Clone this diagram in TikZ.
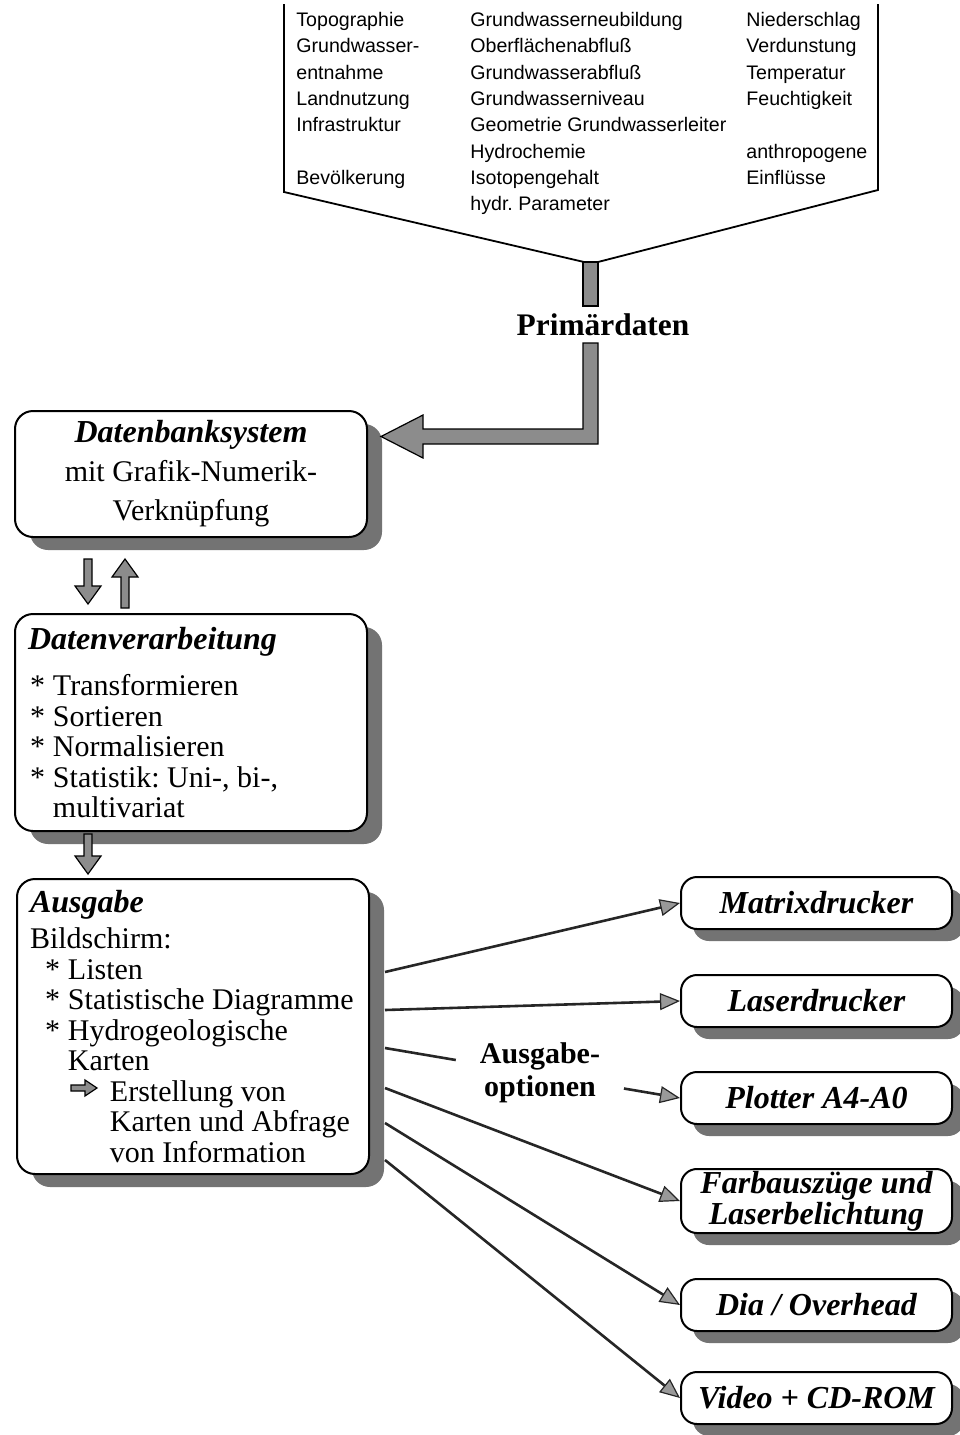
\documentclass[tikz,border=0pt]{standalone}
\usepackage{fontspec}
\setmainfont{Liberation Serif}
\newfontfamily\helv{Liberation Sans}
\usetikzlibrary{arrows.meta,calc,shadows}
\newcommand\fatarrow[2]{%
  \coordinate (fab) at ($(#2)!9pt!(#1)$);
  \draw[fatarr] ($(#1)!2pt!90:(#2)$) -- ($(fab)!2pt!-90:(#1)$) -- ($(fab)!6.5pt!-90:(#1)$) -- (#2) -- ($(fab)!6.5pt!90:(#1)$) -- ($(fab)!2pt!90:(#1)$) -- ($(#1)!2pt!-90:(#2)$) -- cycle;}
\newcommand\hdr{\fontsize{16}{16}\selectfont\bfseries\itshape}
\newcommand\itm{\makebox[11.5pt][l]{*}}
\begin{document}
\frenchspacing
\begin{tikzpicture}[x=0.5pt,y=-0.5pt,
  lbox/.style={draw=black, line width=1pt, rounded corners=9pt, fill=white,
    drop shadow={shadow xshift=7.5pt,shadow yshift=-6.5pt,fill=black!55,opacity=1},
    anchor=north west, minimum width=176pt, inner xsep=3pt, inner ysep=0pt,
    text width=170pt, font=\fontsize{15}{15.25}\selectfont},
  rbox/.style={draw=black, line width=1pt, rounded corners=8pt, fill=white,
    drop shadow={shadow xshift=6pt,shadow yshift=-6pt,fill=black!55,opacity=1},
    minimum width=135.5pt, minimum height=26pt, inner sep=1pt, align=center,
    font=\fontsize{16}{13.5}\selectfont\bfseries\itshape},
  col/.style={anchor=north west, inner sep=0pt, align=left,
    font=\helv\fontsize{9.8}{13.15}\selectfont},
  fatarr/.style={draw=black, line width=0.6pt, fill=black!45},
  bar/.style={draw=black, line width=0.6pt, fill=black!45},
  conn/.style={line width=1.3pt, draw=black!85,
    -{Triangle[length=10pt,width=8.5pt,fill=black!40,line width=0.6pt]}},
  plain/.style={line width=1.3pt, draw=black!85}]
\useasboundingbox (0,0) rectangle (959,1435);

% funnel of primary data
\draw[line width=0.9pt] (284,4) -- (284,192) -- (584,262);
\draw[line width=0.9pt] (878,4) -- (878,190) -- (598,262);
\node[col] (c1) at (296,12) {Topographie\\Grundwasser-\\entnahme\\Landnutzung\\Infrastruktur\\\mbox{}\\Bevölkerung};
\node[col] (c2) at (470,12) {Grundwasserneubildung\\Oberflächenabfluß\\Grundwasserabfluß\\Grundwasserniveau\\Geometrie Grundwasserleiter\\Hydrochemie\\Isotopengehalt\\hydr. Parameter};
\node[col] (c3) at (746,12) {Niederschlag\\Verdunstung\\Temperatur\\Feuchtigkeit\\\mbox{}\\anthropogene\\Einflüsse};

% boxes
\node[lbox, minimum height=63pt, align=flush center,
  font=\fontsize{15}{19.5}\selectfont] (db) at (14,410)
  {{\hdr Datenbanksystem}\\mit Grafik-Numerik-\\Verknüpfung\\[-2pt]};
\node[lbox, minimum height=108.5pt, align=flush left] (dv) at (14,613)
  {\hspace*{3.5pt}{\hdr Datenverarbeitung}\\[8pt]
   \hspace*{4.5pt}\itm Transformieren\\
   \hspace*{4.5pt}\itm Sortieren\\
   \hspace*{4.5pt}\itm Normalisieren\\
   \hspace*{4.5pt}\itm Statistik: Uni-, bi-,\\
   \hspace*{16pt}multivariat\\[3pt]};
\node[lbox, minimum height=147.5pt, align=flush left] (aus) at (16,878)
  {\hspace*{3.5pt}{\hdr Ausgabe}\\[3pt]
   \hspace*{3.5pt}Bildschirm:\\
   \hspace*{11pt}\itm Listen\\
   \hspace*{11pt}\itm Statistische Diagramme\\
   \hspace*{11pt}\itm Hydrogeologische\\
   \hspace*{22.5pt}Karten\\
   \hspace*{43.5pt}Erstellung von\\
   \hspace*{43.5pt}Karten und Abfrage\\
   \hspace*{43.5pt}von Information};
\draw[fatarr] (71,1085) -- (85,1085) -- (85,1080) -- (97,1088) -- (85,1096) -- (85,1091) -- (71,1091) -- cycle;

\node[rbox] (mat) at (816.5,903) {Matrixdrucker};
\node[rbox] (las) at (816.5,1001) {Laserdrucker};
\node[rbox] (plo) at (816.5,1098) {Plotter A4-A0};
\node[rbox, minimum height=31pt] (far) at (816.5,1201) {Farbauszüge und\\Laserbelichtung};
\node[rbox] (dia) at (816.5,1305) {Dia / Overhead};
\node[rbox] (vid) at (816.5,1398) {Video + CD-ROM};

% Primärdaten arrow
\draw[bar] (583,262) rectangle (598,306);
\node[font=\fontsize{15.7}{16}\selectfont\bfseries] (pd) at (603,325) {Primärdaten};
\draw[bar] (583,343) -- (598,343) -- (598,444) -- (423,444) -- (423,458) -- (381,436.5) -- (423,415) -- (423,429) -- (583,429) -- cycle;

% fat arrows between boxes
\coordinate (f1a) at ($(db.south west)+(74,21)$);
\coordinate (f1b) at ($(dv.north west)+(74,-9)$);
\coordinate (f2a) at ($(dv.north west)+(111,-5)$);
\coordinate (f2b) at ($(db.south west)+(111,21)$);
\coordinate (f3a) at ($(dv.south west)+(74,2)$);
\coordinate (f3b) at ($(aus.north west)+(72,-4)$);
\fatarrow{f1a}{f1b}
\fatarrow{f2a}{f2b}
\fatarrow{f3a}{f3b}

% output connectors
\coordinate (o1) at ($(aus.north east)+(15,94)$);
\coordinate (o2) at ($(aus.north east)+(15,132)$);
\coordinate (o3) at ($(aus.north east)+(15,170)$);
\coordinate (o4) at ($(aus.north east)+(15,210)$);
\coordinate (o5) at ($(aus.north east)+(15,245)$);
\coordinate (o6) at ($(aus.north east)+(15,282)$);
\draw[conn] (o1) -- (mat.west);
\draw[conn] (o2) -- (las.west);
\draw[plain] (o3) -- ($(o3)!0.24!(plo.west)$);
\draw[conn] ($(o3)!0.81!(plo.west)$) -- (plo.west);
\draw[conn] (o4) -- (far.west);
\draw[conn] (o5) -- (dia.west);
\draw[conn] (o6) -- (vid.west);
\node[font=\fontsize{15}{16.5}\selectfont\bfseries, align=center] (opt) at (540,1073) {Ausgabe-\\optionen};
\end{tikzpicture}
\end{document}
